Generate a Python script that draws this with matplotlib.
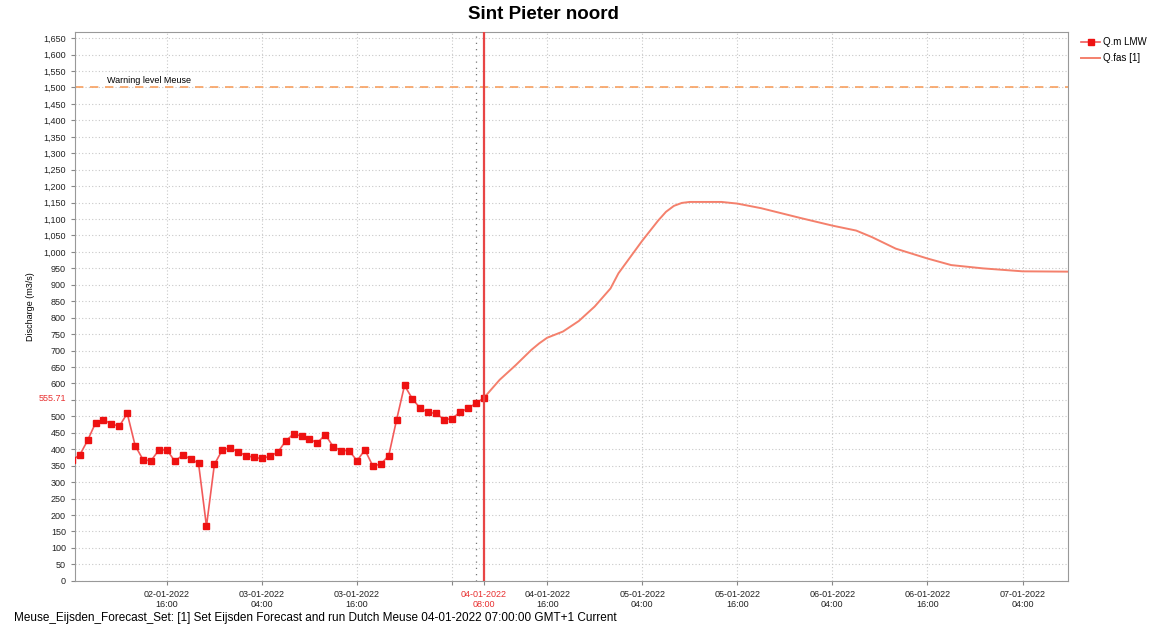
"""Sint Pieter noord discharge: observed Q.m LMW + forecast Q.fas [1]."""
from datetime import datetime, timedelta

import numpy as np
import matplotlib
matplotlib.use("Agg")
import matplotlib.pyplot as plt
from matplotlib.ticker import FuncFormatter

plt.rcParams["font.family"] = ["Liberation Sans", "DejaVu Sans"]

# ── Data ──
t_forecast0 = datetime(2022, 1, 4, 8, 0)
obs_start = datetime(2022, 1, 2, 4, 0)  # hourly observations
obs_values = [368, 382, 427, 480, 490, 477, 470, 509, 411, 368, 365, 398, 398,
              364, 382, 371, 357, 166, 354, 398, 404, 392, 381, 375, 372, 379,
              391, 425, 447, 440, 430, 420, 444, 408, 396, 396, 365, 398, 349,
              355, 380, 490, 594, 553, 524, 512, 509, 490, 493, 513, 524, 540,
              555.71]
fc_hours = [0, 2, 4, 6, 7, 8, 10, 12, 14, 16, 17, 20, 22, 23, 24, 25, 26, 30,
            32, 35, 40, 44, 47, 49, 52, 56, 59, 63, 68, 74]
fc_values = [555.71, 611, 655, 702, 722, 739, 758, 790, 834, 889, 935, 1034,
             1095, 1122, 1140, 1149, 1152, 1152, 1147, 1133, 1103, 1080, 1065,
             1045, 1010, 980, 960, 950, 941, 940]
warning_level = 1500
current_value = 555.71

obs_t = [obs_start + timedelta(hours=i) for i in range(len(obs_values))]
fc_t = [t_forecast0 + timedelta(hours=h) for h in fc_hours]

x_left = t_forecast0 - timedelta(hours=51.6)
x_right = t_forecast0 + timedelta(hours=73.7)

# ── Figure ──
fig = plt.figure(figsize=(11.53, 6.32), dpi=100)
ax = fig.add_axes([0.065, 0.081, 0.861, 0.868])

ax.plot(fc_t, fc_values, color="#f4806c", lw=1.4, label="Q.fas [1]", zorder=3)
ax.plot(obs_t, obs_values, color="#f25a5a", lw=1.2, marker="s", ms=4.2,
        mfc="#ee1111", mec="#ee1111", label="Q.m LMW", zorder=4)

ax.axhline(warning_level, color="#f7a060", lw=1.2, ls=(0, (5, 4)), zorder=2)
ax.text(obs_start + timedelta(hours=4.5), warning_level + 8, "Warning level Meuse",
        fontsize=6.5, ha="left", va="bottom")
ax.axvline(t_forecast0, color="#e84545", lw=1.6, zorder=5)
ax.axvline(t_forecast0 - timedelta(hours=1), color="#777777", lw=0.9,
           ls=(0, (1, 4)), zorder=1)

ax.set_xlim(x_left, x_right)
ax.set_ylim(0, 1668)

# y ticks every 50; 550 label swapped for the current value in red
ax.set_yticks(range(0, 1651, 50))
ax.yaxis.set_major_formatter(FuncFormatter(
    lambda v, _: "" if int(round(v)) == 550 else f"{int(round(v)):,}"))
ax.text(-0.009, current_value, f"{current_value:.2f}", color="#e83030",
        fontsize=6.5, ha="right", va="center",
        transform=ax.get_yaxis_transform())

# x ticks every 12 h plus forecast time, 04-01 04:00 left unlabelled
xt = [datetime(2022, 1, 2, 16) + timedelta(hours=12 * i) for i in range(10)]
xt.append(t_forecast0)
xt.sort()
ax.set_xticks(xt)
xlabels = []
for t in xt:
    if t == datetime(2022, 1, 4, 4):
        xlabels.append("")
    else:
        xlabels.append(t.strftime("%d-%m-%Y\n%H:%M"))
ax.set_xticklabels(xlabels)

ax.tick_params(axis="both", labelsize=6.5, length=3, color="#888888",
               labelcolor="#222222")
for lbl, t in zip(ax.get_xticklabels(), xt):
    if t == t_forecast0:
        lbl.set_color("#e83030")

ax.grid(True, color="#c8c8c8", lw=0.8, ls=(0, (1, 2)))
for s in ax.spines.values():
    s.set_color("#999999")
    s.set_linewidth(0.8)

ax.set_ylabel("Discharge (m3/s)", fontsize=6.5, labelpad=4)
ax.yaxis.set_label_coords(-0.04, 0.5)
fig.suptitle("Sint Pieter noord", fontsize=13.5, fontweight="bold", x=0.471, y=0.99)

h, l = ax.get_legend_handles_labels()
fig.legend(h[::-1], l[::-1], loc="upper left", bbox_to_anchor=(0.93, 0.955),
           frameon=False, fontsize=7, handlelength=2.0, handletextpad=0.3,
           labelspacing=0.6)

fig.text(0.012, 0.012,
         "Meuse_Eijsden_Forecast_Set: [1] Set Eijsden Forecast and run Dutch Meuse "
         "04-01-2022 07:00:00 GMT+1 Current", fontsize=8.5, ha="left", va="bottom")

fig.savefig("out.png", dpi=100)
